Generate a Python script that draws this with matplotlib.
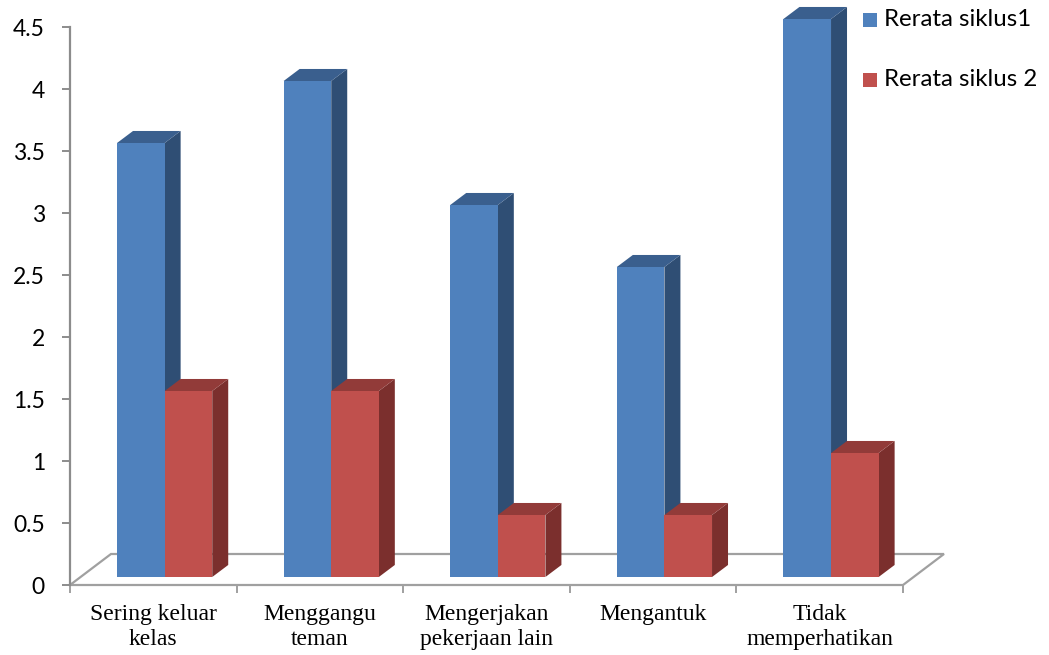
import matplotlib
matplotlib.use("Agg")
import matplotlib.pyplot as plt
from matplotlib.patches import Polygon, Rectangle

categories = ["Sering keluar\nkelas", "Menggangu\nteman", "Mengerjakan\npekerjaan lain",
              "Mengantuk", "Tidak\nmemperhatikan"]
siklus1 = [3.5, 4.0, 3.0, 2.5, 4.5]
siklus2 = [1.5, 1.5, 0.5, 0.5, 1.0]
series_names = ["Rerata siklus1", "Rerata siklus 2"]
yticks = [0, 0.5, 1, 1.5, 2, 2.5, 3, 3.5, 4, 4.5]
ytick_labels = ["0", "0.5", "1", "1.5", "2", "2.5", "3", "3.5", "4", "4.5"]

# face colours: front, top, side
blue = ("#4F81BD", "#3A5F8E", "#2F4E74")
red = ("#C0504D", "#923B39", "#7B2F2D")

W, H = 1049, 655
fig = plt.figure(figsize=(W / 100, H / 100), dpi=100)
ax = fig.add_axes([70 / W, 70 / H, 833 / W, 558 / H])
n = len(categories)
ax.set_xlim(0, n)
ax.set_ylim(0, 4.5)
for s in ["top", "right", "bottom"]:
    ax.spines[s].set_visible(False)
ax.spines["left"].set_color("#8C8C8C")
ax.spines["left"].set_linewidth(1.6)

grey = "#A0A0A0"
# floor of the 3D plot area
fdx, fdy = 0.246, 0.25
floor_x = [0, n, n + fdx, fdx, 0]
floor_y = [0, 0, fdy, fdy, 0]
ax.plot(floor_x, floor_y, color=grey, lw=1.6, clip_on=False, zorder=1,
        solid_joinstyle="miter")

# bar geometry (category units / value units)
bw = 1 / 3.5          # bar width, gap width 150%
sx, sy = 0.068, 0.0645  # offset of bar front from floor front
dx, dy = 0.096, 0.097   # bar depth


def bar3d(x0, h, cols, z):
    fx, fy = x0 + sx, sy
    side = [(fx + bw, fy), (fx + bw + dx, fy + dy), (fx + bw + dx, fy + h + dy), (fx + bw, fy + h)]
    top = [(fx, fy + h), (fx + bw, fy + h), (fx + bw + dx, fy + h + dy), (fx + dx, fy + h + dy)]
    ax.add_patch(Polygon(side, closed=True, facecolor=cols[2], edgecolor="none", zorder=z, clip_on=False))
    ax.add_patch(Polygon(top, closed=True, facecolor=cols[1], edgecolor="none", zorder=z, clip_on=False))
    ax.add_patch(Rectangle((fx, fy), bw, h, facecolor=cols[0], edgecolor="none", zorder=z + 0.5, clip_on=False))


for i in range(n):
    c = i + 0.5
    bar3d(c - bw, siklus1[i], blue, 2 + i * 2)
    bar3d(c, siklus2[i], red, 3 + i * 2)

ax.set_yticks(yticks)
ax.set_yticklabels(ytick_labels, fontfamily="Lato", fontsize=16.5)
ax.tick_params(axis="y", direction="out", length=6, width=1.4, color="#8C8C8C", pad=12)

ax.set_xticks(range(n + 1))
ax.set_xticklabels([""] * (n + 1))
ax.tick_params(axis="x", which="major", direction="out", length=6, width=1.4, color=grey)
ax.set_xticks([i + 0.5 for i in range(n)], minor=True)
ax.set_xticklabels(categories, minor=True, fontfamily="Liberation Serif", fontsize=17,
                   linespacing=1.2)
ax.tick_params(axis="x", which="minor", length=0, pad=14)

# legend
for k, (name, col) in enumerate(zip(series_names, [blue[0], red[0]])):
    yc = 20 + 60 * k
    fig.patches.append(Rectangle((863 / W, 1 - (yc + 7) / H), 14 / W, 14 / H,
                                 facecolor=col, edgecolor="none", transform=fig.transFigure))
    fig.text(884 / W, 1 - yc / H, name, fontfamily="Lato", fontsize=17.3, va="center", ha="left")

fig.savefig("out.png", dpi=100)
